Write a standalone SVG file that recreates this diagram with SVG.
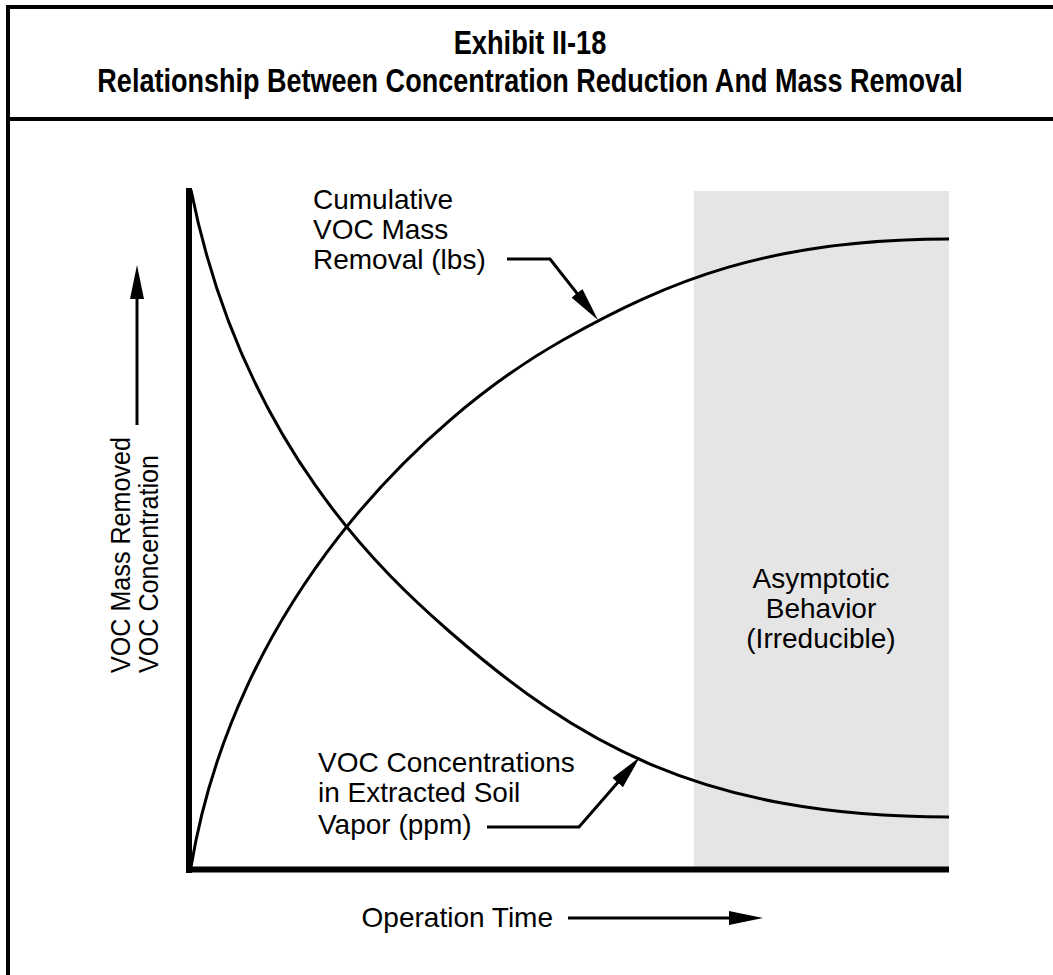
<svg xmlns="http://www.w3.org/2000/svg" width="1053" height="975" viewBox="0 0 1053 975">
<style>
.t{font-family:"Liberation Sans",Arial,Helvetica,sans-serif;font-size:28px;fill:#000}
.title{font-family:"Liberation Sans",Arial,Helvetica,sans-serif;font-size:34px;font-weight:bold;fill:#000}
.frame{stroke:#000;stroke-width:4;fill:none}
.axis{stroke:#000;stroke-width:6;fill:none}
.curve{stroke:#000;stroke-width:3;fill:none}
.lead{stroke:#000;stroke-width:3;fill:none;marker-end:url(#ah)}
</style>
<defs>
<marker id="ah" markerUnits="userSpaceOnUse" markerWidth="40" markerHeight="20" viewBox="0 -10 40 20" refX="24" refY="0" orient="auto">
<path d="M0,-7 L34,0 L0,7 Z" fill="#000"/>
</marker>
</defs>
<rect x="0" y="0" width="1053" height="975" fill="#fff"/>
<g id="frame">
<line class="frame" x1="8" y1="5" x2="8" y2="975"/>
<line class="frame" x1="6" y1="7" x2="1053" y2="7"/>
<line class="frame" x1="8" y1="119" x2="1053" y2="119"/>
</g>
<g id="title">
<text class="title" transform="translate(530,54) scale(0.8,1)" x="0" y="0" text-anchor="middle">Exhibit II-18</text>
<text class="title" transform="translate(530,92) scale(0.795,1)" x="0" y="0" text-anchor="middle">Relationship Between Concentration Reduction And Mass Removal</text>
</g>
<g id="asymptotic-region">
<rect x="694" y="191" width="255" height="676" fill="#e5e5e5"/>
<text class="t" text-anchor="middle"><tspan x="821" y="588">Asymptotic</tspan><tspan x="821" y="618">Behavior</tspan><tspan x="821" y="648">(Irreducible)</tspan></text>
</g>
<g id="curves">
<path id="concentration-curve" class="curve" d="M191,190 C242,445.1 385.9,576.2 450,632 C574.5,740.3 699,817 949,817"/>
<path id="mass-curve" class="curve" d="M191,867 C234.5,605.7 419.3,421 563,340 C667.5,281.1 769,239 949,239"/>
</g>
<g id="axes">
<line class="axis" x1="189" y1="188" x2="189" y2="873"/>
<line class="axis" x1="186" y1="869.5" x2="949" y2="869.5"/>
</g>
<g id="y-label">
<text class="t" transform="translate(130,673) rotate(-90)" font-size="27"><tspan x="0" y="0" textLength="236" lengthAdjust="spacingAndGlyphs">VOC Mass Removed</tspan><tspan x="0" y="28" textLength="218" lengthAdjust="spacingAndGlyphs">VOC Concentration</tspan></text>
</g>
<g id="x-label">
<text class="t" x="553" y="927" text-anchor="end">Operation Time</text>
</g>
<g id="mass-label">
<text class="t"><tspan x="313" y="209">Cumulative</tspan><tspan x="313" y="239">VOC Mass</tspan><tspan x="313" y="269">Removal (lbs)</tspan></text>
</g>
<g id="concentration-label">
<text class="t"><tspan x="318" y="772">VOC Concentrations</tspan><tspan x="318" y="802">in Extracted Soil</tspan><tspan x="318" y="834">Vapor (ppm)</tspan></text>
</g>
<g id="connectors">
<polyline class="lead" points="507,259 550,259 591.8,312.1"/>
<polyline class="lead" points="487,827 579,827 633.4,764.5"/>
<line class="lead" x1="137" y1="425" x2="137" y2="275"/>
<line class="lead" x1="568" y1="918" x2="753" y2="918"/>
</g>
</svg>
